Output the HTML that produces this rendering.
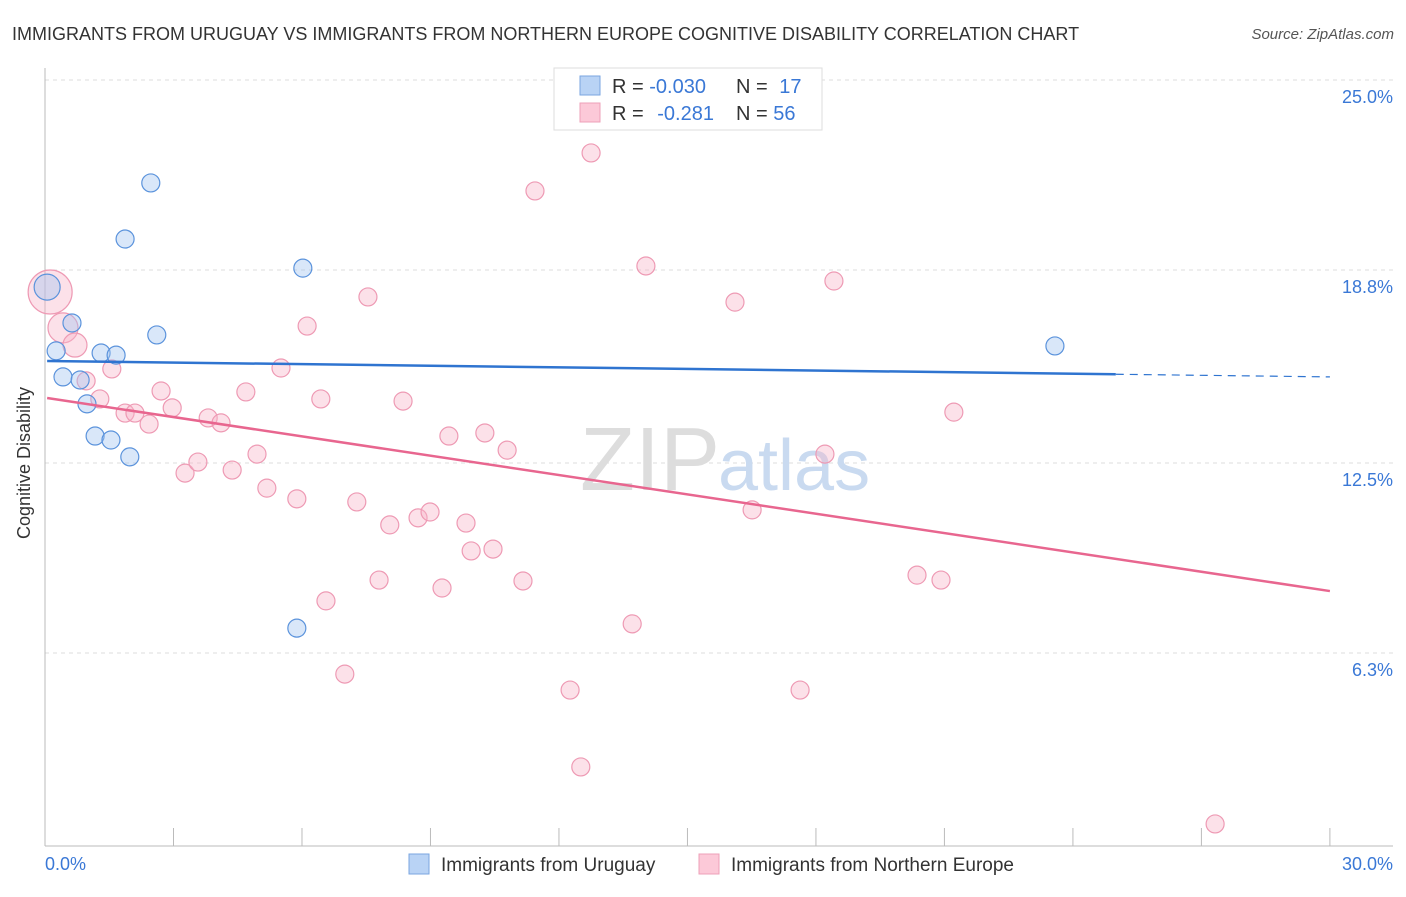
<!DOCTYPE html>
<html><head><meta charset="utf-8"><style>
body{margin:0;background:#fff;font-family:"Liberation Sans",sans-serif;}
svg text{font-family:"Liberation Sans",sans-serif;}
</style></head><body>
<svg width="1406" height="892" viewBox="0 0 1406 892">
<text x="12" y="40" font-size="18" fill="#333">IMMIGRANTS FROM URUGUAY VS IMMIGRANTS FROM NORTHERN EUROPE COGNITIVE DISABILITY CORRELATION CHART</text>
<text x="1394" y="39" font-size="15" fill="#555" font-style="italic" text-anchor="end">Source: ZipAtlas.com</text>
<g id="grid"></g>
<text x="720" y="490" font-size="90" fill="#ddd" text-anchor="end" font-family="Liberation Serif">ZIP</text>
<text x="718" y="490" font-size="72" fill="#c9daf0">atlas</text>
<g id="pts"></g>
<g id="lines"></g>
<text x="22" y="455" font-size="18" fill="#333" transform="rotate(-90 30 455)" text-anchor="middle">Cognitive Disability</text>
<g>
<rect x="554" y="68" width="268" height="62" fill="#fff" stroke="#ddd"/>
<rect x="580" y="76" width="20" height="19" fill="#b9d3f5" stroke="#7aa6e0"/>
<rect x="580" y="103" width="20" height="19" fill="#fcc9d8" stroke="#eea0b8"/>
<text x="612" y="93" font-size="20" fill="#333">R = <tspan fill="#3a78d6">-0.030</tspan></text>
<text x="736" y="93" font-size="20" fill="#333">N = <tspan fill="#3a78d6" dx="6">17</tspan></text>
<text x="612" y="120" font-size="20" fill="#333">R = <tspan fill="#3a78d6" dx="8">-0.281</tspan></text>
<text x="736" y="120" font-size="20" fill="#333">N = <tspan fill="#3a78d6">56</tspan></text>
</g>
<g>
<rect x="409" y="854" width="20" height="20" fill="#b9d3f5" stroke="#7aa6e0"/>
<text x="441" y="871" font-size="19" fill="#333">Immigrants from Uruguay</text>
<rect x="699" y="854" width="20" height="20" fill="#fcc9d8" stroke="#eea0b8"/>
<text x="731" y="871" font-size="19" fill="#333">Immigrants from Northern Europe</text>
</g>
<text x="45" y="870" font-size="18" fill="#3a78d6">0.0%</text>
<text x="1393" y="870" font-size="18" fill="#3a78d6" text-anchor="end">30.0%</text>
</svg>
<script>
const yTicks=[25.0,18.8,12.5,6.3];
const yTickLabels=["25.0%","18.8%","12.5%","6.3%"];
const xTicks=[0,3,6,9,12,15,18,21,24,27,30];
const blueX=[0.05,2.47,1.87,6.02,0.63,2.61,0.26,1.31,1.66,0.42,0.82,0.98,1.17,1.54,1.98,5.88,23.58];
const blueY=[18.24,21.64,19.81,18.86,17.07,16.68,16.16,16.09,16.02,15.31,15.21,14.43,13.38,13.25,12.70,7.11,16.32];
const blueSize=[13,9,9,9,9,9,9,9,9,9,9,9,9,9,9,9,9];
const pinkX=[0.12,0.42,0.70,0.96,1.56,1.28,1.87,2.10,2.43,2.71,2.97,3.27,3.57,3.81,4.11,4.37,4.69,4.95,5.18,5.51,5.88,6.12,6.44,6.56,7.00,7.28,7.54,7.80,8.05,8.36,8.71,8.99,9.27,9.43,9.83,9.95,10.27,10.46,10.79,11.16,11.44,12.26,12.51,12.75,13.71,14.03,15.55,16.11,16.51,17.63,18.21,18.42,20.36,20.92,21.22,27.32];
const pinkY=[18.08,16.91,16.35,15.18,15.57,14.59,14.13,14.13,13.77,14.85,14.30,12.17,12.53,13.97,13.81,12.27,14.82,12.79,11.68,15.60,11.33,16.97,14.59,8.00,5.61,11.23,17.92,8.68,10.48,14.52,10.71,10.90,8.42,13.38,10.54,9.63,13.48,9.69,12.92,8.65,21.38,5.09,2.58,22.62,7.25,18.93,25.0,17.75,10.97,5.09,12.79,18.44,8.84,8.68,14.16,0.72];
const pinkSize=[22,15,12,9,9,9,9,9,9,9,9,9,9,9,9,9,9,9,9,9,9,9,9,9,9,9,9,9,9,9,9,9,9,9,9,9,9,9,9,9,9,9,9,9,9,9,9,9,9,9,9,9,9,9,9,9];
const blueTrend=[15.83,15.31];
const pinkTrend=[14.62,8.32];
const blueSolidEnd=25.0;
const NS="http://www.w3.org/2000/svg";
const X=v=>45+v*42.83, Y=v=>846-v*30.64;
function mk(t,a,p){const e=document.createElementNS(NS,t);for(const k in a)e.setAttribute(k,a[k]);p.appendChild(e);return e;}
const grid=document.getElementById('grid');
yTicks.forEach((t,i)=>{
 const l=mk('line',{x1:45,x2:1393,y1:Y(t),y2:Y(t),stroke:'#ddd','stroke-dasharray':'4 4'},grid);
 
 
 const tx=mk('text',{x:1393,y:Y(t)+23,'font-size':18,fill:'#3a78d6','text-anchor':'end'},grid);
 tx.textContent=yTickLabels[i];
 
 
});
const ax=mk('line',{x1:45,x2:45,y1:68,y2:846,stroke:'#bbb'},grid);


const bx=mk('line',{x1:45,x2:1393,y1:846,y2:846,stroke:'#bbb'},grid);


xTicks.forEach(t=>{
 const l=mk('line',{x1:X(t),x2:X(t),y1:828,y2:846,stroke:'#bbb'},grid);
 
 
});
const pts=document.getElementById('pts');
pinkX.forEach((v,i)=>{
 const c=mk('circle',{cx:X(v),cy:Y(pinkY[i]),r:pinkSize[i],fill:'rgba(248,180,200,0.4)',stroke:'#ee9ab4','stroke-width':1.2},pts);
 
 
});
blueX.forEach((v,i)=>{
 const c=mk('circle',{cx:X(v),cy:Y(blueY[i]),r:blueSize[i],fill:'rgba(160,195,240,0.4)',stroke:'#5b93dc','stroke-width':1.2},pts);
 
 
});
const lines=document.getElementById('lines');
const by=x=>blueTrend[0]+(blueTrend[1]-blueTrend[0])*x/30;
const b1=mk('line',{x1:X(0.05),y1:Y(by(0.05)),x2:X(blueSolidEnd),y2:Y(by(blueSolidEnd)),stroke:'#2f74d0','stroke-width':2.5},lines);


const b2=mk('line',{x1:X(blueSolidEnd),y1:Y(by(blueSolidEnd)),x2:X(30),y2:Y(by(30)),stroke:'#2f74d0','stroke-width':1.2,'stroke-dasharray':'8 6'},lines);


const p1=mk('line',{x1:X(0.05),y1:Y(pinkTrend[0]),x2:X(30),y2:Y(pinkTrend[1]),stroke:'#e8668f','stroke-width':2.5},lines);


</script>
</body></html>
